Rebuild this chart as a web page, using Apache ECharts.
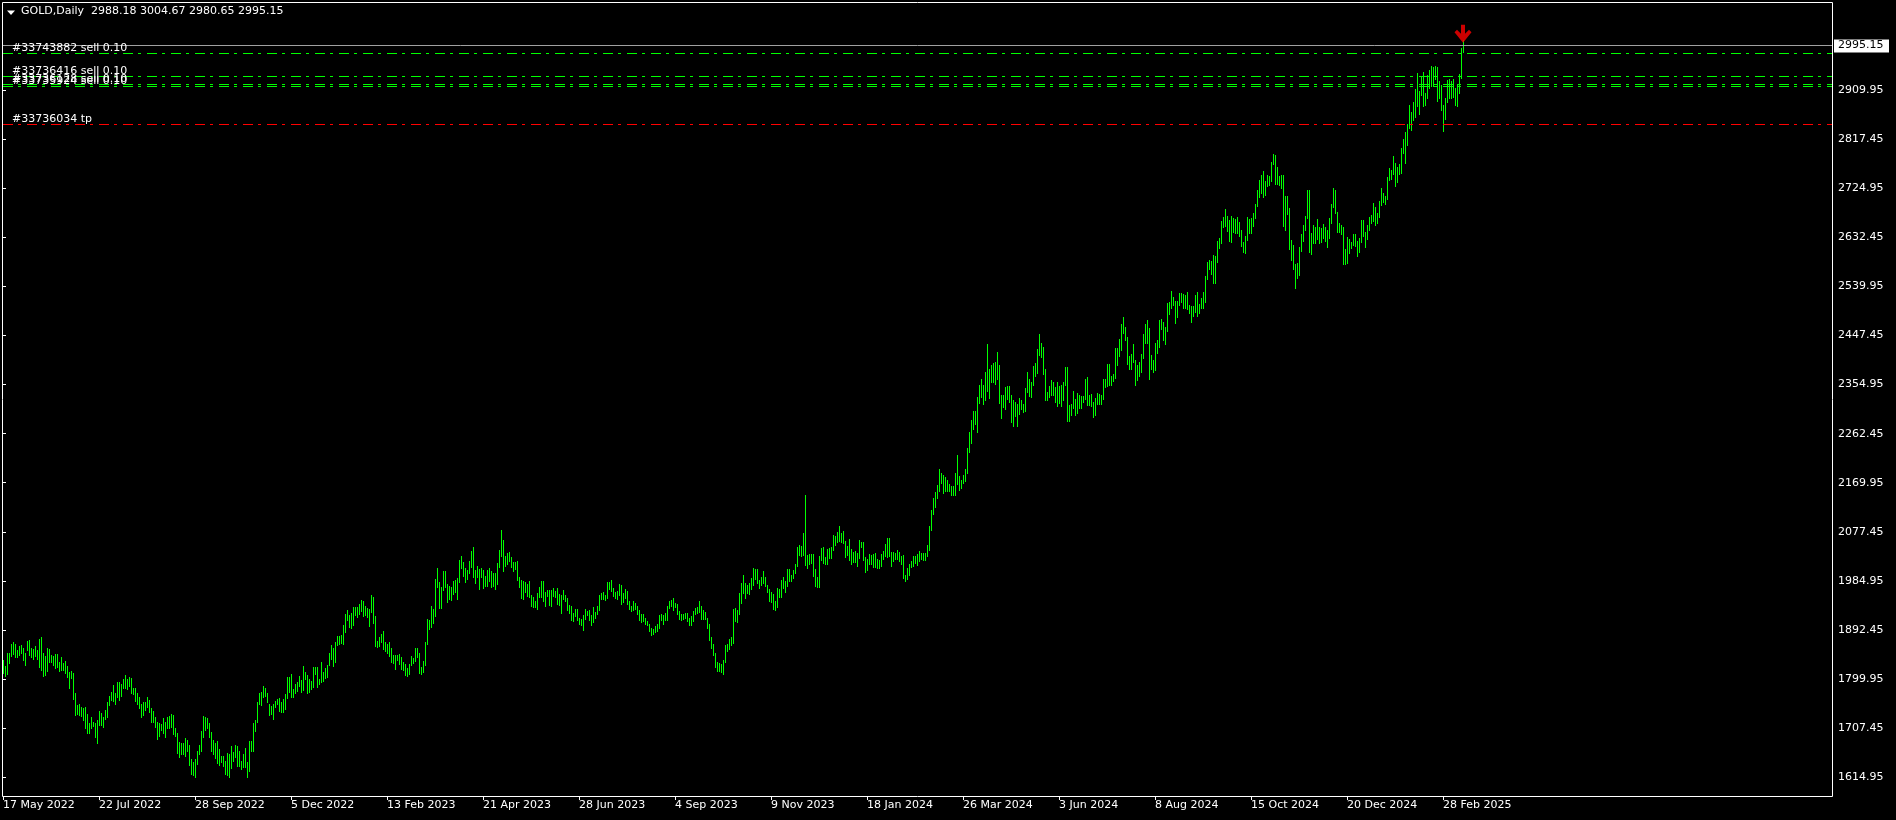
<!DOCTYPE html>
<html><head><meta charset="utf-8">
<script src="https://cdn.jsdelivr.net/npm/echarts@6/dist/echarts.min.js"></script>
<style>html,body{margin:0;padding:0;background:#000;overflow:hidden}#c{width:1896px;height:820px}</style>
</head><body><div id="c"></div>
<script>
const symbolName = 'GOLD';
const timeframe = 'Daily';
const lastOHLC = [2988.18, 3004.67, 2980.65, 2995.15];
const bidPrice = 2995.15;

const barHigh = [
1836,1825,1850,1850,1866,1870,1867,1855,1862,1864,
1858,1850,1871,1874,1859,1856,1862,1855,1876,1879,
1849,1843,1859,1856,1846,1843,1847,1847,1832,1841,
1831,1834,1825,1813,1816,1812,1774,1751,1753,1747,
1746,1747,1735,1718,1728,1720,1717,1722,1739,1737,
1729,1742,1757,1768,1776,1789,1774,1794,1794,1791,
1801,1807,1800,1803,1802,1784,1783,1773,1766,1754,
1756,1757,1766,1761,1746,1740,1728,1719,1718,1715,
1727,1720,1728,1730,1735,1732,1708,1698,1681,1679,
1680,1689,1685,1676,1649,1644,1649,1665,1675,1703,
1730,1728,1727,1717,1700,1685,1679,1684,1669,1655,
1655,1645,1660,1659,1673,1663,1676,1674,1665,1646,
1658,1670,1643,1684,1684,1718,1723,1757,1774,1776,
1787,1784,1774,1753,1749,1754,1759,1762,1764,1757,
1763,1771,1803,1803,1810,1782,1791,1794,1805,1799,
1825,1814,1807,1800,1797,1822,1823,1823,1801,1833,
1814,1820,1826,1850,1865,1858,1869,1881,1881,1884,
1901,1922,1930,1920,1925,1936,1935,1935,1942,1949,
1948,1938,1934,1933,1959,1955,1918,1872,1880,1885,
1891,1870,1867,1870,1859,1846,1845,1846,1847,1842,
1832,1828,1820,1828,1843,1839,1858,1858,1850,1822,
1835,1870,1914,1912,1937,1932,1989,2009,1982,1974,
2003,2003,1979,1975,1974,1984,1987,1990,2025,2032,
2021,2009,2005,2022,2041,2048,2005,2013,2008,2009,
2006,1994,2005,2010,2004,1999,1999,2019,2043,2081,
2063,2032,2037,2039,2030,2020,2021,2022,1993,1987,
1984,1983,1980,1985,1959,1955,1948,1963,1974,1984,
1984,1964,1967,1967,1967,1972,1966,1971,1960,1958,
1968,1959,1952,1940,1937,1925,1932,1933,1916,1913,
1920,1933,1929,1930,1920,1935,1927,1938,1959,1963,
1964,1958,1983,1982,1987,1972,1964,1966,1980,1978,
1962,1969,1966,1947,1938,1947,1943,1937,1930,1922,
1922,1915,1910,1903,1896,1895,1900,1904,1921,1922,
1920,1925,1938,1947,1949,1953,1944,1941,1928,1922,
1923,1925,1925,1916,1918,1929,1934,1935,1947,1937,
1930,1926,1916,1903,1880,1867,1850,1833,1831,1829,
1836,1865,1866,1876,1880,1933,1934,1930,1962,1981,
1997,1981,1977,1981,1990,2009,2007,2008,1987,1993,
2004,1993,1977,1970,1965,1960,1947,1971,1970,1987,
1993,1985,2008,2007,1997,2005,2017,2048,2052,2051,
2075,2146,2033,2036,2035,2035,2007,1993,2031,2047,
2048,2030,2046,2047,2049,2071,2069,2078,2088,2075,
2079,2060,2050,2064,2046,2040,2041,2038,2062,2059,
2058,2030,2026,2035,2033,2036,2038,2026,2025,2035,
2042,2055,2066,2065,2040,2040,2038,2043,2039,2032,
2033,1996,2009,2016,2023,2032,2031,2035,2041,2038,
2037,2037,2053,2088,2119,2141,2152,2165,2195,2189,
2184,2180,2175,2168,2164,2163,2189,2222,2182,2176,
2184,2196,2236,2266,2288,2305,2305,2331,2354,2365,
2355,2378,2431,2385,2392,2395,2397,2417,2391,2335,
2335,2351,2352,2353,2336,2326,2323,2318,2330,2326,
2318,2348,2378,2366,2359,2389,2395,2422,2450,2433,
2426,2385,2340,2352,2364,2360,2351,2360,2353,2354,
2359,2388,2388,2317,2318,2342,2327,2339,2336,2333,
2333,2365,2369,2336,2337,2322,2330,2339,2338,2335,
2365,2365,2393,2393,2372,2375,2424,2424,2440,2469,
2483,2463,2444,2409,2412,2432,2402,2392,2398,2412,
2451,2469,2477,2462,2411,2402,2433,2438,2476,2478,
2472,2464,2509,2510,2531,2520,2513,2513,2527,2528,
2526,2523,2529,2504,2503,2503,2523,2529,2507,2518,
2529,2560,2586,2589,2588,2600,2597,2625,2632,2664,
2670,2685,2672,2665,2673,2668,2667,2670,2661,2646,
2624,2635,2670,2666,2669,2679,2696,2722,2740,2749,
2758,2738,2749,2748,2775,2790,2787,2764,2748,2749,
2749,2710,2710,2688,2627,2618,2582,2584,2614,2639,
2656,2673,2721,2722,2641,2656,2651,2666,2652,2649,
2657,2651,2646,2668,2696,2726,2722,2680,2660,2655,
2651,2611,2633,2630,2624,2639,2638,2625,2631,2665,
2665,2643,2655,2671,2675,2697,2690,2679,2700,2725,
2716,2711,2746,2763,2759,2786,2773,2765,2770,2800,
2817,2830,2845,2882,2869,2887,2911,2942,2908,2936,
2944,2905,2938,2947,2955,2954,2956,2953,2927,2920,
2882,2894,2928,2930,2927,2930,2913,2922,2940,2990,
3004.67
];

const barLow = [
1812,1806,1810,1831,1843,1847,1841,1841,1845,1850,
1836,1827,1855,1845,1841,1837,1843,1838,1823,1817,
1805,1807,1815,1832,1832,1826,1821,1822,1816,1818,
1817,1812,1803,1784,1802,1763,1732,1734,1732,1730,
1722,1707,1698,1699,1707,1712,1691,1680,1713,1713,
1710,1725,1729,1752,1761,1758,1754,1766,1761,1768,
1783,1783,1781,1787,1773,1772,1759,1754,1746,1728,
1733,1742,1748,1738,1720,1720,1709,1688,1693,1705,
1699,1690,1707,1708,1709,1697,1693,1660,1654,1659,
1659,1655,1665,1639,1621,1620,1615,1640,1659,1664,
1691,1705,1707,1690,1665,1659,1651,1641,1639,1643,
1637,1622,1620,1616,1632,1645,1654,1637,1636,1631,
1635,1635,1616,1627,1664,1664,1702,1720,1754,1752,
1767,1768,1757,1732,1735,1725,1747,1753,1739,1738,
1738,1744,1764,1776,1766,1767,1773,1778,1787,1775,
1779,1800,1774,1775,1781,1786,1810,1785,1791,1795,
1796,1802,1804,1827,1838,1824,1833,1865,1866,1868,
1867,1888,1911,1899,1896,1901,1920,1917,1922,1928,
1919,1920,1917,1900,1927,1905,1862,1860,1862,1869,
1856,1853,1850,1843,1833,1830,1819,1836,1828,1819,
1817,1808,1805,1810,1826,1830,1835,1842,1812,1809,
1813,1826,1867,1895,1898,1905,1918,1974,1934,1934,
1968,1974,1945,1950,1949,1960,1964,1950,1983,2010,
1995,1982,1989,1999,2012,1992,1981,1993,1969,1992,
1972,1976,1975,1985,1974,1976,1969,1979,2012,2032,
2003,2013,2016,2022,2011,2003,2007,1986,1973,1952,
1951,1964,1957,1955,1937,1936,1935,1932,1954,1955,
1947,1938,1956,1940,1938,1957,1954,1942,1939,1925,
1950,1947,1931,1924,1911,1910,1918,1912,1903,1902,
1893,1913,1920,1912,1902,1908,1915,1922,1930,1951,
1950,1949,1953,1970,1966,1956,1952,1950,1958,1942,
1945,1952,1941,1932,1928,1930,1932,1923,1912,1907,
1910,1903,1901,1890,1884,1885,1888,1890,1897,1911,
1904,1912,1912,1934,1937,1931,1935,1923,1913,1912,
1914,1916,1910,1901,1901,1909,1922,1924,1927,1914,
1914,1913,1897,1873,1858,1846,1822,1815,1815,1813,
1810,1832,1853,1857,1865,1868,1910,1908,1922,1943,
1962,1953,1963,1961,1970,1978,1989,1981,1971,1977,
1981,1976,1965,1947,1945,1932,1930,1936,1955,1955,
1971,1965,1976,1985,1985,1990,1999,2013,2034,2031,
2034,2015,2010,2017,2018,1995,1976,1973,1974,2025,
2018,2016,2017,2028,2028,2043,2052,2058,2061,2058,
2057,2030,2034,2024,2017,2021,2020,2013,2029,2048,
2025,2002,2006,2016,2016,2011,2012,2009,2010,2014,
2026,2031,2030,2031,2014,2023,2027,2027,2022,2017,
1990,1984,1988,1996,2011,2014,2019,2015,2022,2026,
2024,2025,2031,2044,2081,2111,2124,2141,2154,2170,
2150,2155,2154,2154,2146,2146,2146,2168,2157,2160,
2169,2173,2188,2228,2244,2271,2281,2266,2321,2331,
2319,2326,2343,2330,2359,2360,2356,2365,2320,2291,
2312,2309,2327,2323,2285,2277,2295,2277,2299,2308,
2303,2306,2340,2333,2331,2354,2372,2376,2410,2407,
2374,2326,2325,2332,2336,2335,2323,2314,2321,2315,
2325,2355,2287,2287,2297,2310,2298,2301,2311,2310,
2323,2327,2316,2317,2314,2293,2297,2318,2318,2319,
2327,2351,2353,2354,2354,2361,2367,2391,2409,2421,
2453,2438,2393,2385,2384,2397,2354,2364,2371,2379,
2405,2433,2433,2365,2385,2379,2382,2415,2425,2459,
2439,2431,2455,2488,2500,2504,2471,2483,2504,2510,
2499,2500,2498,2490,2472,2485,2491,2485,2490,2500,
2500,2510,2553,2572,2563,2546,2547,2585,2612,2622,
2651,2653,2644,2625,2624,2643,2641,2640,2635,2616,
2604,2603,2627,2640,2640,2654,2669,2692,2708,2715,
2709,2713,2729,2731,2738,2770,2733,2733,2731,2726,
2653,2646,2677,2611,2590,2572,2537,2555,2562,2607,
2625,2646,2669,2605,2601,2622,2622,2629,2622,2624,
2631,2625,2614,2632,2659,2690,2678,2643,2643,2639,
2583,2583,2584,2603,2612,2617,2616,2597,2604,2623,
2635,2615,2630,2647,2659,2664,2656,2660,2670,2694,
2698,2696,2704,2740,2742,2752,2730,2737,2751,2754,
2792,2772,2807,2838,2835,2854,2860,2880,2865,2900,
2880,2882,2895,2913,2918,2918,2930,2890,2894,2872,
2833,2856,2887,2895,2894,2897,2881,2880,2905,2932,
2980.65
];

const dateTickIndex = [0,48,96,144,192,240,288,336,384,432,480,528,576,624,672,720];
const dateLabels = ['17 May 2022','22 Jul 2022','28 Sep 2022','5 Dec 2022','13 Feb 2023','21 Apr 2023','28 Jun 2023','4 Sep 2023','9 Nov 2023','18 Jan 2024','26 Mar 2024','3 Jun 2024','8 Aug 2024','15 Oct 2024','20 Dec 2024','28 Feb 2025'];
const priceTicks = [1614.95,1707.45,1799.95,1892.45,1984.95,2077.45,2169.95,2262.45,2354.95,2447.45,2539.95,2632.45,2724.95,2817.45,2909.95];

const orderNames = ['#33743882 sell 0.10','#33736416 sell 0.10','#33736128 sell 0.10','#33735924 sell 0.10','#33736034 tp'];
const orderPrices = [2979.6, 2936.3, 2921.3, 2917.5, 2845.9];
const orderKinds = ['sell','sell','sell','sell','tp'];
const arrowBar = 730;

const BAR_COLOR = '#00ff00';
const FONT = '"DejaVu Sans"';

const chart = echarts.init(document.getElementById('c'), null, {renderer:'canvas'});

const barData = barHigh.map((h, i) => [i, h, barLow[i]]);

chart.setOption({
  backgroundColor: '#000000',
  animation: false,
  title: {
    text: symbolName + ',' + timeframe + '  ' + lastOHLC.map(v => v.toFixed(2)).join(' '),
    left: 21, top: 6, padding: 0,
    textStyle: {color: '#ffffff', fontSize: 11, fontWeight: 'normal', fontFamily: FONT}
  },
  graphic: [
    {type: 'polygon', shape: {points: [[7,10.5],[15,10.5],[11,15]]}, style: {fill: '#ffffff'}, silent: true},
    {type: 'rect', shape: {x: 2.5, y: 2.5, width: 1830, height: 794}, style: {fill: null, stroke: '#ffffff', lineWidth: 1}, silent: true, z: 100}
  ],
  grid: {left: 2, top: 2, width: 1830, height: 794, show: false},
  xAxis: {
    type: 'value', min: -0.5, max: 914.5, position: 'bottom',
    axisLine: {show: false},
    splitLine: {show: false},
    axisTick: {show: true, customValues: dateTickIndex, length: 4, inside: false, lineStyle: {color: '#ffffff', width: 1}},
    axisLabel: {
      customValues: dateTickIndex, align: 'left', margin: 4, color: '#ffffff',
      fontSize: 11, fontFamily: FONT,
      formatter: v => dateLabels[dateTickIndex.indexOf(Math.round(v))]
    }
  },
  yAxis: {
    type: 'value', position: 'right', min: 1579.72, max: 3075.76, scale: true,
    axisLine: {show: false},
    splitLine: {show: false},
    axisTick: {show: true, customValues: priceTicks, length: 3, inside: false, lineStyle: {color: '#ffffff', width: 1}},
    axisLabel: {
      customValues: priceTicks, margin: 6, color: '#ffffff', fontSize: 11, fontFamily: FONT,
      formatter: v => v.toFixed(2)
    }
  },
  series: [
    {
      type: 'custom', name: 'bars', data: barData, encode: {x: 0, y: [1, 2]},
      renderItem: (params, api) => {
        const x = Math.floor(api.coord([api.value(0), api.value(1)])[0]);
        const yH = Math.round(api.coord([api.value(0), api.value(1)])[1]);
        const yL = Math.round(api.coord([api.value(0), api.value(2)])[1]);
        return {type: 'rect', shape: {x: x, y: yH, width: 1, height: Math.max(1, yL - yH + 1)}, style: {fill: BAR_COLOR}};
      }
    },
    {
      type: 'custom', name: 'orders', data: orderPrices.map((p, i) => [0, p, i]), encode: {x: 0, y: 1},
      clip: false, z: 5,
      renderItem: (params, api) => {
        const cs = params.coordSys;
        const i = api.value(2);
        const y = Math.round(api.coord([0, api.value(1)])[1]) + 0.5;
        const col = orderKinds[i] === 'tp' ? '#ff0000' : BAR_COLOR;
        return {type: 'group', children: [
          {type: 'line', shape: {x1: cs.x + 1, y1: y, x2: cs.x + cs.width, y2: y}, style: {stroke: col, lineWidth: 1, lineDash: [10,5,3,6]}},
          {type: 'text', x: cs.x + 10, y: y, style: {text: orderNames[i], fill: '#ffffff', fontSize: 11, fontFamily: 'DejaVu Sans', align: 'left', verticalAlign: 'bottom'}}
        ]};
      }
    },
    {
      type: 'custom', name: 'bid', data: [[0, bidPrice]], encode: {x: 0, y: 1},
      clip: false, z: 4,
      renderItem: (params, api) => {
        const cs = params.coordSys;
        const y = Math.round(api.coord([0, api.value(1)])[1]) + 0.5;
        const right = cs.x + cs.width;
        return {type: 'group', children: [
          {type: 'line', shape: {x1: cs.x + 1, y1: y, x2: right, y2: y}, style: {stroke: '#a0a0a0', lineWidth: 1}},
          {type: 'rect', shape: {x: right + 2, y: Math.round(y) - 6.5, width: 55, height: 13}, style: {fill: '#ffffff'}},
          {type: 'text', x: right + 6, y: y, style: {text: api.value(1).toFixed(2), fill: '#000000', fontSize: 11, fontFamily: 'DejaVu Sans', align: 'left', verticalAlign: 'middle'}}
        ]};
      }
    },
    {
      type: 'scatter', name: 'arrow', z: 6,
      data: [[arrowBar, barHigh[arrowBar]]],
      symbol: 'path://M6.5,0 L10.5,0 L10.5,9 L14.5,5 L17,7.5 L8.5,18 L0,7.5 L2.5,5 L6.5,9 Z',
      symbolSize: [17, 18], symbolOffset: [0, -6],
      itemStyle: {color: '#ff0000'}, silent: true
    }
  ]
});
</script></body></html>
